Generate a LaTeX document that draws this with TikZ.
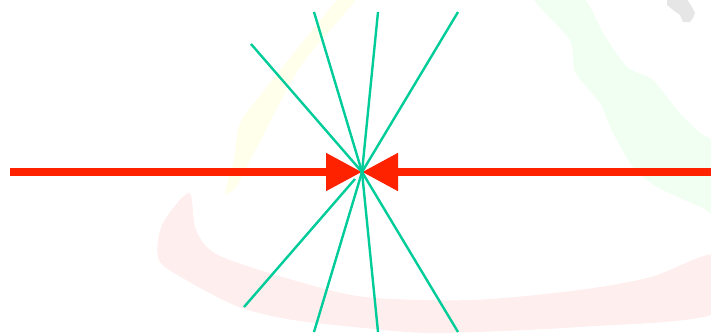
\documentclass[tikz,border=0pt]{standalone}
\usetikzlibrary{arrows.meta}
\definecolor{redline}{RGB}{255,34,0}
\definecolor{teal2}{RGB}{0,204,153}
\definecolor{bgpink}{RGB}{255,238,238}
\definecolor{bgyellow}{RGB}{255,255,236}
\definecolor{bggreen}{RGB}{240,255,242}
\definecolor{bggray}{RGB}{230,230,230}
\tikzset{
  redarrow/.style={draw=redline, line width=8pt, -{Triangle[length=36pt,width=36pt]}, fill=redline},
  ray/.style={draw=teal2, line width=2.4pt},
  wash/.style={draw=none}
}
\begin{document}
\begin{tikzpicture}[x=1pt,y=-1pt]
\useasboundingbox (0,0) rectangle (711,332);
\clip (0,0) rectangle (711,332);
% faint background shapes
\fill[bgpink] plot[smooth cycle, tension=0.5] coordinates {(189,193) (196,230) (218,255) (293,280) (365,297) (472,300) (579,290) (651,277) (716,255) (716,313) (579,327) (436,333) (365,328) (293,320) (239,307) (186,280) (159,260) (162,225)};
\fill[bgyellow] plot[smooth cycle, tension=0.4] coordinates {(340,-3) (270,83) (240,123) (234,160) (225,193) (236,187) (257,147) (300,67) (358,-3)};
\fill[bggreen] plot[smooth cycle, tension=0.4] coordinates {(533,-3) (570,40) (575,72) (600,103) (613,133) (633,167) (657,187) (703,208) (714,212) (714,145) (700,133) (677,110) (653,80) (627,67) (603,33) (582,-3)};
\fill[bggray] (667,-2) -- (686,-2) -- (692,7) -- (695,13) -- (693,18) -- (690,22) -- (683,22) -- (680,15) -- (673,10) -- (667,5) -- cycle;
% nodes
\coordinate (c) at (362,172);
\coordinate (L) at (10,172);
\coordinate (R) at (714,172);
\coordinate (ul) at (251,44);
\coordinate (t1) at (314,12);
\coordinate (t2) at (378,12);
\coordinate (t3) at (458,12);
\coordinate (lls) at (355,179);
\coordinate (ll) at (244,307);
\coordinate (b1) at (314,332);
\coordinate (b2) at (378,332);
\coordinate (b3) at (458,332);
% red arrows
\draw[redarrow] (L) -- (c);
\draw[redarrow] (R) -- (c);
% teal rays
\foreach \p in {ul,t1,t2,t3,b1,b2,b3} \draw[ray] (c) -- (\p);
\draw[ray] (lls) -- (ll);
\end{tikzpicture}
\end{document}
